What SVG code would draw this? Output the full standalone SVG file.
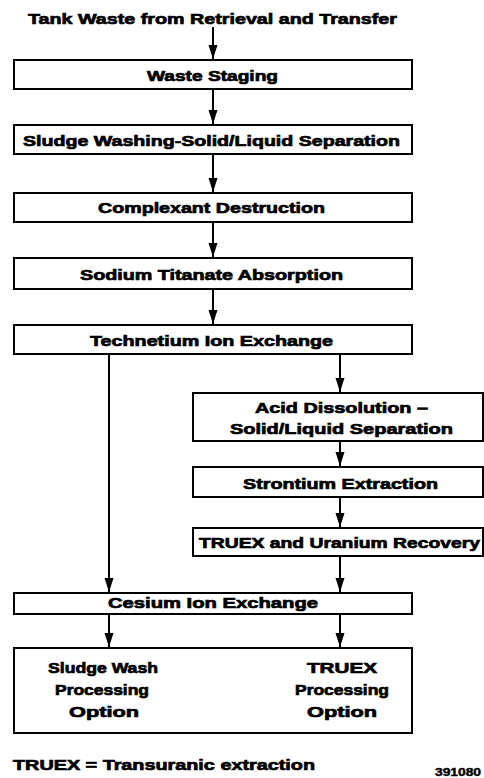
<svg xmlns="http://www.w3.org/2000/svg" width="484" height="778" viewBox="0 0 484 778">
<style>
  .box{fill:#fff;stroke:#000;stroke-width:2}
  .t{font-family:"Liberation Sans",Arial,Helvetica,sans-serif;font-weight:bold;font-size:15px;fill:#000;stroke:#000;stroke-width:0.7;text-anchor:middle}
  .l{text-anchor:start}
  .id{font-size:10px;stroke-width:0.4}
  .c{fill:none;stroke:#000;stroke-width:2}
</style>
<defs>
  <marker id="ah" markerUnits="userSpaceOnUse" markerWidth="14" markerHeight="10" refX="14" refY="4.5" orient="auto">
    <path d="M0,0 L14,4.5 L0,9 Z" fill="#000"/>
  </marker>
</defs>
<rect width="484" height="778" fill="#fff"/>

<g id="title">
  <text class="t" x="212.5" y="24" textLength="369" lengthAdjust="spacingAndGlyphs">Tank Waste from Retrieval and Transfer</text>
</g>

<g id="connectors">
  <path class="c" d="M213,27 V59" marker-end="url(#ah)"/>
  <path class="c" d="M213,89 V124" marker-end="url(#ah)"/>
  <path class="c" d="M213,154 V192" marker-end="url(#ah)"/>
  <path class="c" d="M213,222 V257" marker-end="url(#ah)"/>
  <path class="c" d="M213,289 V324" marker-end="url(#ah)"/>
  <path class="c" d="M340,354 V392" marker-end="url(#ah)"/>
  <path class="c" d="M109,354 V592" marker-end="url(#ah)"/>
  <path class="c" d="M340,441 V466" marker-end="url(#ah)"/>
  <path class="c" d="M340,497 V527" marker-end="url(#ah)"/>
  <path class="c" d="M340,556 V592" marker-end="url(#ah)"/>
  <path class="c" d="M109,614 V647" marker-end="url(#ah)"/>
  <path class="c" d="M340,614 V647" marker-end="url(#ah)"/>
</g>

<g id="waste-staging">
  <rect class="box" x="14" y="60" width="398" height="29"/>
  <text class="t" x="212.5" y="81" textLength="131" lengthAdjust="spacingAndGlyphs">Waste Staging</text>
</g>
<g id="sludge-washing">
  <rect class="box" x="14" y="125" width="398" height="29"/>
  <text class="t" x="211.5" y="146" textLength="377" lengthAdjust="spacingAndGlyphs">Sludge Washing-Solid/Liquid Separation</text>
</g>
<g id="complexant">
  <rect class="box" x="14" y="193" width="398" height="29"/>
  <text class="t" x="211.5" y="213" textLength="227" lengthAdjust="spacingAndGlyphs">Complexant Destruction</text>
</g>
<g id="sodium-titanate">
  <rect class="box" x="14" y="258" width="398" height="31"/>
  <text class="t" x="211.5" y="280" textLength="263" lengthAdjust="spacingAndGlyphs">Sodium Titanate Absorption</text>
</g>
<g id="technetium">
  <rect class="box" x="14" y="325" width="398" height="29"/>
  <text class="t" x="211.5" y="346" textLength="243" lengthAdjust="spacingAndGlyphs">Technetium Ion Exchange</text>
</g>
<g id="acid-dissolution">
  <rect class="box" x="193" y="393" width="290" height="48"/>
  <text class="t" x="341.5" y="413" textLength="173" lengthAdjust="spacingAndGlyphs">Acid Dissolution –</text>
  <text class="t" x="341.5" y="434" textLength="223" lengthAdjust="spacingAndGlyphs">Solid/Liquid Separation</text>
</g>
<g id="strontium">
  <rect class="box" x="193" y="467" width="290" height="30"/>
  <text class="t" x="340.5" y="489" textLength="195" lengthAdjust="spacingAndGlyphs">Strontium Extraction</text>
</g>
<g id="truex-uranium">
  <rect class="box" x="193" y="528" width="290" height="28"/>
  <text class="t" x="339.5" y="548" textLength="281" lengthAdjust="spacingAndGlyphs">TRUEX and Uranium Recovery</text>
</g>
<g id="cesium">
  <rect class="box" x="14" y="593" width="398" height="21"/>
  <text class="t" x="213" y="608" textLength="210" lengthAdjust="spacingAndGlyphs">Cesium Ion Exchange</text>
</g>
<g id="options">
  <rect class="box" x="14" y="648" width="398" height="85"/>
  <text class="t" x="103" y="673" textLength="110" lengthAdjust="spacingAndGlyphs">Sludge Wash</text>
  <text class="t" x="102" y="695" textLength="94" lengthAdjust="spacingAndGlyphs">Processing</text>
  <text class="t" x="104" y="717" textLength="70" lengthAdjust="spacingAndGlyphs">Option</text>
  <text class="t" x="342" y="673" textLength="70" lengthAdjust="spacingAndGlyphs">TRUEX</text>
  <text class="t" x="342" y="695" textLength="94" lengthAdjust="spacingAndGlyphs">Processing</text>
  <text class="t" x="342" y="717" textLength="70" lengthAdjust="spacingAndGlyphs">Option</text>
</g>

<g id="footer">
  <text class="t l" x="13" y="770" textLength="302" lengthAdjust="spacingAndGlyphs">TRUEX = Transuranic extraction</text>
  <text class="t l id" x="435" y="776" textLength="46" lengthAdjust="spacingAndGlyphs">391080</text>
</g>
</svg>
